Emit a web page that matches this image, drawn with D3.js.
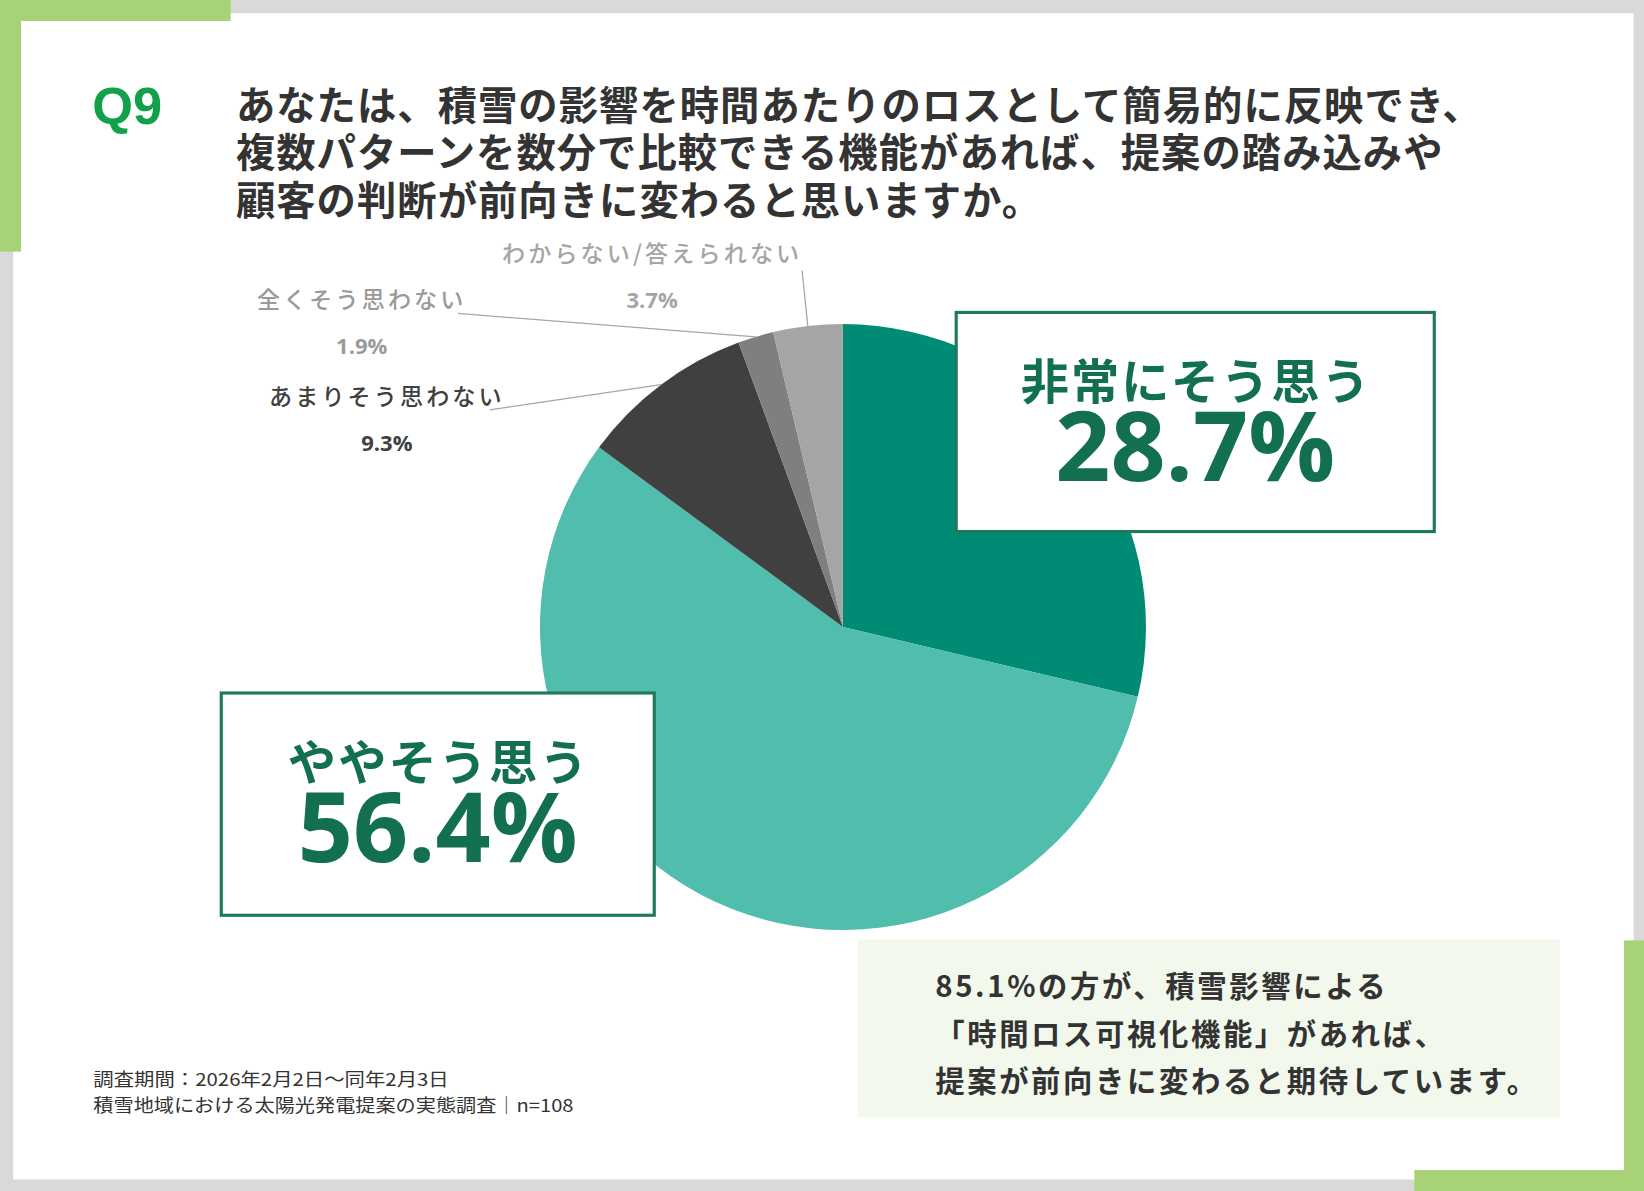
<!DOCTYPE html>
<html>
<head>
<meta charset="utf-8">
<script src="https://cdn.jsdelivr.net/npm/d3@7"></script>
<style>
  html, body { margin: 0; padding: 0; background: #d9d9d9; }
  svg { display: block; }
  .jp { font-family: "Noto Sans CJK JP", "Noto Sans", sans-serif; }
  .num { font-family: "Open Sans", "Noto Sans", sans-serif; }
</style>
</head>
<body>
<svg id="chart" width="1644" height="1191" viewBox="0 0 1568 1136"></svg>
<script>
// answers, clockwise from 12 o'clock
var categories = ["非常にそう思う", "ややそう思う", "あまりそう思わない", "全くそう思わない", "わからない/答えられない"];
var values = [28.7, 56.4, 9.3, 1.9, 3.7];
var valueLabels = ["28.7%", "56.4%", "9.3%", "1.9%", "3.7%"];

var titleLines = [
    "あなたは、積雪の影響を時間あたりのロスとして簡易的に反映でき、",
    "複数パターンを数分で比較できる機能があれば、提案の踏み込みや",
    "顧客の判断が前向きに変わると思いますか。"
];
var summaryLines = [
    "85.1%の方が、積雪影響による",
    "「時間ロス可視化機能」があれば、",
    "提案が前向きに変わると期待しています。"
];
var noteLines = [
    "調査期間：2026年2月2日～同年2月3日",
    "積雪地域における太陽光発電提案の実態調査│n=108"
];

var sliceColors = ["#008b74", "#50bdad", "#404040", "#7f7f7f", "#a5a5a5"];
var green = "#a7d376";
var boxGreen = "#12704f";

var svg = d3.select("#chart");

// frame
svg.append("rect").attr("x", 0).attr("y", 0).attr("width", 1568).attr("height", 1136).attr("fill", "#d9d9d9");
svg.append("rect").attr("x", 12.5).attr("y", 12.5).attr("width", 1545.5).attr("height", 1112.5).attr("fill", "#ffffff");
svg.append("rect").attr("x", 0).attr("y", 0).attr("width", 220).attr("height", 20).attr("fill", green);
svg.append("rect").attr("x", 0).attr("y", 0).attr("width", 20).attr("height", 240).attr("fill", green);
svg.append("rect").attr("x", 1549).attr("y", 897).attr("width", 19).attr("height", 239).attr("fill", green);
svg.append("rect").attr("x", 1349).attr("y", 1116).attr("width", 219).attr("height", 20).attr("fill", green);

// title
svg.append("text")
    .attr("x", 88).attr("y", 118)
    .attr("font-family", "Liberation Sans, Arial, sans-serif")
    .attr("font-weight", 700).attr("font-size", 50)
    .attr("fill", "#13a04a")
    .text("Q9");

svg.selectAll(".title_line")
    .data(titleLines)
    .enter().append("text")
    .attr("class", "title_line jp")
    .attr("x", 225)
    .attr("y", function(d, i) { return 114 + i * 45.5; })
    .attr("font-size", 37.5).attr("font-weight", 700)
    .attr("letter-spacing", 1)
    .attr("fill", "#333333")
    .text(function(d) { return d; });

// pie
var cx = 804, cy = 598, radius = 289;

var pie = d3.pie().sort(null).value(function(d) { return d; });
var arcs = pie(values);
var arc = d3.arc().innerRadius(0).outerRadius(radius);
var edgeArc = d3.arc().innerRadius(radius).outerRadius(radius);

var g = svg.append("g").attr("transform", "translate(" + cx + "," + cy + ")");

g.selectAll(".slice_class")
    .data(arcs)
    .enter().append("path")
    .attr("class", "slice_class")
    .attr("d", arc)
    .attr("fill", function(d, i) { return sliceColors[i]; });

// small outside labels (index -> label placement)
var smallLabels = [
    { i: 2, x: 369, y: 386, color: "#404040", from: [467, 391] },
    { i: 3, x: 345, y: 294, color: "#9a9a9a", from: [437, 299] },
    { i: 4, x: 622, y: 250, color: "#a5a5a5", from: [765, 258] }
];

svg.selectAll(".leader_class")
    .data(smallLabels)
    .enter().append("line")
    .attr("class", "leader_class")
    .attr("x1", function(d) { return d.from[0]; })
    .attr("y1", function(d) { return d.from[1]; })
    .attr("x2", function(d) { return cx + edgeArc.centroid(arcs[d.i])[0]; })
    .attr("y2", function(d) { return cy + edgeArc.centroid(arcs[d.i])[1]; })
    .attr("stroke", "#a6a6a6")
    .attr("stroke-width", 1.2);

svg.selectAll(".small_cat")
    .data(smallLabels)
    .enter().append("text")
    .attr("class", "small_cat jp")
    .attr("x", function(d) { return d.x; })
    .attr("y", function(d) { return d.y; })
    .attr("text-anchor", "middle")
    .attr("font-size", 22).attr("font-weight", 500)
    .attr("letter-spacing", 3)
    .attr("fill", function(d) { return d.color; })
    .text(function(d) { return categories[d.i]; });

svg.selectAll(".small_val")
    .data(smallLabels)
    .enter().append("text")
    .attr("class", "small_val num")
    .attr("x", function(d) { return d.x; })
    .attr("y", function(d) { return d.y + 44; })
    .attr("text-anchor", "middle")
    .attr("font-size", 21).attr("font-weight", 700)
    .attr("fill", function(d) { return d.color; })
    .text(function(d) { return valueLabels[d.i]; });

// big boxed labels
var bigLabels = [
    { i: 0, x: 912, y: 298, w: 456, h: 209 },
    { i: 1, x: 211, y: 661, w: 413, h: 212 }
];

var boxes = svg.selectAll(".big_label")
    .data(bigLabels)
    .enter().append("g")
    .attr("class", "big_label")
    .attr("transform", function(d) { return "translate(" + d.x + "," + d.y + ")"; });

boxes.append("rect")
    .attr("x", 0).attr("y", 0)
    .attr("width", function(d) { return d.w; })
    .attr("height", function(d) { return d.h; })
    .attr("fill", "#ffffff")
    .attr("stroke", "#1f7a5c")
    .attr("stroke-width", 3);

boxes.append("text")
    .attr("class", "jp")
    .attr("x", function(d) { return d.w / 2 + 1; })
    .attr("y", 83)
    .attr("text-anchor", "middle")
    .attr("font-size", 46).attr("font-weight", 700)
    .attr("letter-spacing", 2)
    .attr("fill", boxGreen)
    .text(function(d) { return categories[d.i]; });

boxes.append("text")
    .attr("class", "num")
    .attr("x", function(d) { return d.w / 2; })
    .attr("y", 161)
    .attr("text-anchor", "middle")
    .attr("font-size", 92).attr("font-weight", 700)
    .attr("fill", boxGreen)
    .text(function(d) { return valueLabels[d.i]; });

// summary callout
svg.append("rect")
    .attr("x", 818).attr("y", 896).attr("width", 670).attr("height", 170)
    .attr("fill", "#f3f8ec");

svg.selectAll(".summary_line")
    .data(summaryLines)
    .enter().append("text")
    .attr("class", "summary_line jp")
    .attr("x", 892)
    .attr("y", function(d, i) { return 951 + i * 45.5; })
    .attr("font-size", 28).attr("font-weight", 700)
    .attr("letter-spacing", 2.5)
    .attr("fill", "#333333")
    .text(function(d) { return d; });

// survey note
svg.selectAll(".note_line")
    .data(noteLines)
    .enter().append("text")
    .attr("class", "note_line jp")
    .attr("x", 89)
    .attr("y", function(d, i) { return 1036 + i * 24.5; })
    .attr("font-size", 17)
    .attr("textLength", function(d, i) { return i == 0 ? 339 : 458; })
    .attr("lengthAdjust", "spacingAndGlyphs")
    .attr("fill", "#333333")
    .text(function(d) { return d; });
</script>
</body>
</html>
